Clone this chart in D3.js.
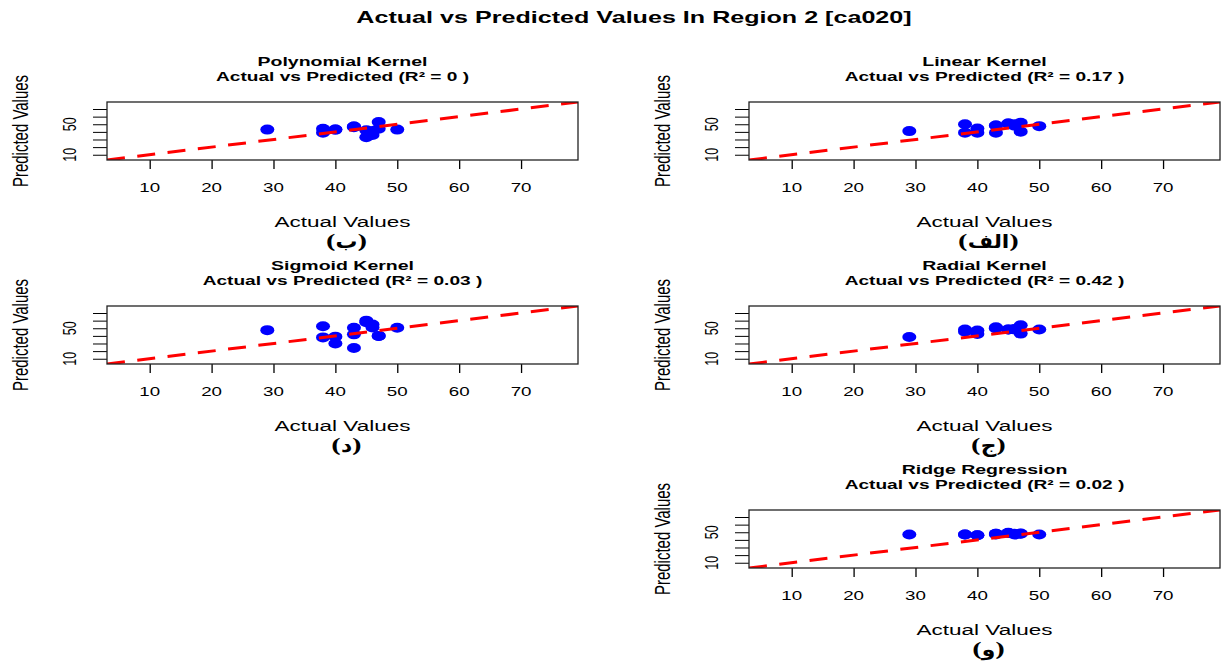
<!DOCTYPE html>
<html>
<head>
<meta charset="utf-8">
<script src="https://cdn.jsdelivr.net/npm/d3@7"></script>
<style>
  html, body { margin: 0; padding: 0; background: #fff; }
  svg { display: block; font-family: "Liberation Sans", Arial, sans-serif; }
</style>
</head>
<body>
<svg id="chart" width="1224" height="664"></svg>
<script>
// ---------------- data ----------------
const mainTitle = "Actual vs Predicted Values In Region 2 [ca020]";
const actual = [29, 38, 38, 40, 40, 43, 43, 43, 45, 45, 46, 46, 47, 47, 50];
const predPolynomial = [43, 44, 39, 43, 43, 47, 47, 46, 42, 33, 36, 41, 53, 44, 43];
const predLinear     = [41, 50, 39, 44.5, 39, 48.4, 39, 48.4, 51, 51, 50, 48, 52, 40.3, 47.5];
const predSigmoid    = [47.5, 52.7, 38, 39, 30, 50.6, 42, 24, 60, 58, 55, 51, 40, 40, 50.6];
const predRadial     = [38.5, 48.4, 45.5, 47, 42.5, 51.4, 50, 50, 48.4, 48.4, 48.4, 49, 54, 43, 48.4];
const predRidge      = [47, 47, 47, 46, 46, 48, 47, 48, 49.3, 49, 47, 48, 48.4, 48, 47];
const modelNames  = ["Polynomial Kernel", "Linear Kernel", "Sigmoid Kernel", "Radial Kernel", "Ridge Regression"];
const r2Values    = ["0", "0.17", "0.03", "0.42", "0.02"];
const panelTags   = ["(ب)", "(الف)", "(د)", "(ج)", "(و)"];
const xTicks = [10, 20, 30, 40, 50, 60, 70];
const yTicks = [10, 20, 30, 40, 50, 60, 70];
const yTickLabels = [10, 50];
const axisDomain = [3.1, 79.2];

const predictions = [predPolynomial, predLinear, predSigmoid, predRadial, predRidge];

// ---------------- layout ----------------
const SX = 1.5;               // horizontal stretch of the source image
const boxW = 471, boxH = 58;
const colLeft = [107, 749];
const rowTop = [102, 306, 510];
const panelPos = [[0,0],[1,0],[0,1],[1,1],[1,2]]; // [col,row]

const svg = d3.select("#chart");

function stext(g, x, y, str, opts) {
  const t = g.append("text")
    .attr("transform", `translate(${x},${y}) scale(${opts.sx || SX},1)` + (opts.rotate ? ` rotate(${opts.rotate})` : ""))
    .attr("text-anchor", opts.anchor || "middle")
    .attr("font-size", opts.size)
    .attr("font-weight", opts.bold ? "bold" : "normal")
    .attr("fill", "#000")
    .text(str);
  if (opts.family) t.attr("font-family", opts.family);
  return t;
}

// main title
stext(svg, 634, 23, mainTitle, {size: 16, bold: true, sx: 1.57});

predictions.forEach((pred, i) => {
  const [c, r] = panelPos[i];
  const left = colLeft[c], top = rowTop[r];
  const x = d3.scaleLinear().domain(axisDomain).range([left, left + boxW]);
  const y = d3.scaleLinear().domain(axisDomain).range([top + boxH, top]);
  const g = svg.append("g");
  const cx = left + boxW / 2;

  // titles
  stext(g, cx, top - 36, modelNames[i], {size: 13, bold: true});
  stext(g, cx, top - 21.5, `Actual vs Predicted (R² = ${r2Values[i]} )`, {size: 13, bold: true, sx: 1.47});

  // x axis
  const xa = g.append("g").attr("transform", `translate(0,${top + boxH})`)
    .call(d3.axisBottom(x).tickValues(xTicks).tickSize(9).tickSizeOuter(0).tickFormat(""));
  xa.select(".domain").remove();
  xa.selectAll("line").attr("stroke", "#000").attr("stroke-width", 1.3);
  xTicks.forEach(v => stext(g, x(v), top + boxH + 31.5, String(v), {size: 12.5}));

  // y axis
  const ya = g.append("g").attr("transform", `translate(${left},0)`)
    .call(d3.axisLeft(y).tickValues(yTicks).tickSize(14).tickSizeOuter(0).tickFormat(""));
  ya.select(".domain").remove();
  ya.selectAll("line").attr("stroke", "#000").attr("stroke-width", 1);
  yTickLabels.forEach(v => stext(g, left - 31, y(v), String(v), {size: 12.5, rotate: -90}));

  // axis titles
  stext(g, cx, top + 124.5, "Actual Values", {size: 15});
  stext(g, left - 79, top + boxH / 2, "Predicted Values", {size: 15, rotate: -90});
  stext(g, cx + 4, top + 146, panelTags[i], {size: 19, bold: true, sx: 1.15, family: "'DejaVu Serif', 'DejaVu Sans', serif"});

  // clip
  const clipId = "clip" + i;
  svg.append("clipPath").attr("id", clipId).append("rect")
    .attr("x", left).attr("y", top).attr("width", boxW).attr("height", boxH);

  // points
  g.append("g").attr("clip-path", `url(#${clipId})`)
    .selectAll("ellipse").data(actual.map((a, k) => [a, pred[k]])).join("ellipse")
    .attr("cx", d => x(d[0])).attr("cy", d => y(d[1]))
    .attr("rx", 7).attr("ry", 5).attr("fill", "#0000FF");

  // y = x reference line
  g.append("line").attr("clip-path", `url(#${clipId})`)
    .attr("x1", x(axisDomain[0])).attr("y1", y(axisDomain[0]))
    .attr("x2", x(axisDomain[1])).attr("y2", y(axisDomain[1]))
    .attr("stroke", "#FF0000").attr("stroke-width", 3)
    .attr("stroke-dasharray", "18,12.5");

  // box
  g.append("rect").attr("x", left).attr("y", top).attr("width", boxW).attr("height", boxH)
    .attr("fill", "none").attr("stroke", "#222").attr("stroke-width", 1.3);
});
</script>
</body>
</html>
